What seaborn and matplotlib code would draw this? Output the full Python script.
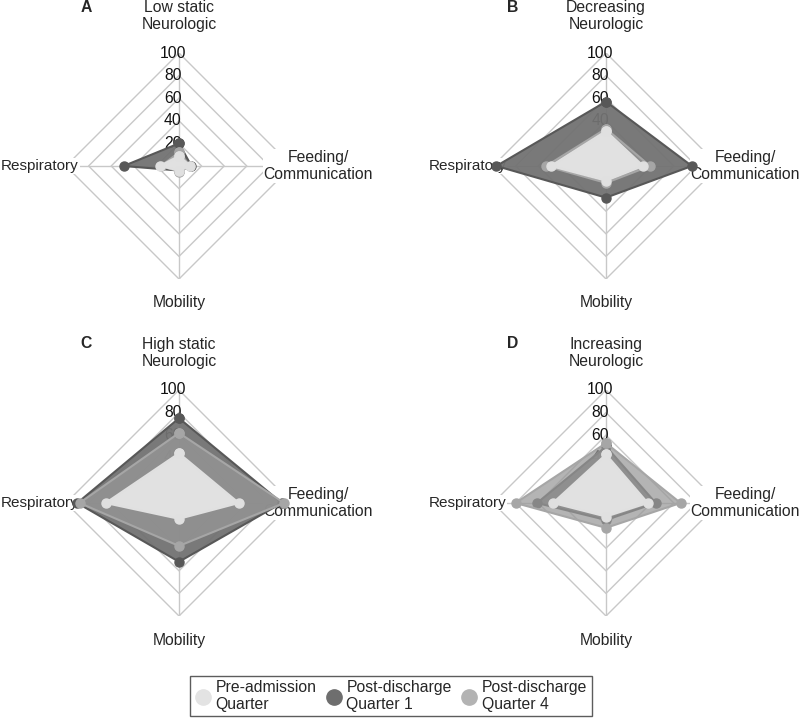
import numpy as np
import matplotlib.pyplot as plt
import matplotlib.transforms as mtransforms
from matplotlib.lines import Line2D
import seaborn as sns

# axis names, clockwise from the top
categories = ['Neurologic', 'Feeding/\nCommunication', 'Mobility', 'Respiratory']
panel_letters = ['A', 'B', 'C', 'D']
panel_titles = ['Low static', 'Decreasing', 'High static', 'Increasing']
ring_values = [0, 20, 40, 60, 80, 100]
series_names = ['Pre-admission\nQuarter', 'Post-discharge\nQuarter 1', 'Post-discharge\nQuarter 4']

# values per panel: [Neurologic, Feeding/Communication, Mobility, Respiratory]
pre_admission = [
    [9, 10, 4, 17],
    [31, 33, 13, 49],
    [44, 53, 14, 65],
    [43, 37, 12, 47],
]
post_q1 = [
    [20, 11, 4, 49],
    [57, 76, 28, 97],
    [75, 91, 52, 90],
    [50, 44, 15, 61],
]
post_q4 = [
    [12, 10, 5, 16],
    [33, 39, 15, 53],
    [62, 93, 38, 88],
    [53, 66, 22, 80],
]

sns.set_style('white')
plt.rcParams['font.family'] = ['Liberation Sans', 'DejaVu Sans']
FS = 11.3

line_cols = sns.color_palette(['#e0e0e0', '#585858', '#a6a6a6'])
fill_cols = sns.color_palette(['#e6e6e6', '#727272', '#989898'])
fill_alpha = [0.95, 0.95, 0.73]
legend_cols = ['#e3e3e3', '#6e6e6e', '#b3b3b3']
grid_col = '#c8c8c8'

W, H = 800, 722
fig = plt.figure(figsize=(W / 100, H / 100), dpi=100)

centers = [(179, 166), (606, 166), (179, 503), (606, 503)]
R = 113
angles = np.linspace(0, 2 * np.pi, len(categories), endpoint=False)
closed = np.concatenate([angles, angles[:1]])


def close(v):
    return list(v) + [v[0]]


for i, (cx, cy) in enumerate(centers):
    ax = fig.add_axes([(cx - R) / W, (H - cy - R) / H, 2 * R / W, 2 * R / H],
                      projection='polar')
    ax.set_theta_offset(np.pi / 2)
    ax.set_theta_direction(-1)
    ax.set_ylim(0, 100)
    ax.axis('off')

    # diamond grid
    for r in ring_values[1:]:
        ax.plot(closed, [r] * len(closed), color=grid_col, lw=1, zorder=1)
    for a in angles:
        ax.plot([a, a], [0, 100], color=grid_col, lw=1, zorder=1)

    # scale labels along the top axis
    off = mtransforms.offset_copy(ax.transData, fig=fig, x=-6, y=0, units='dots')
    for r in ring_values:
        ax.text(0, r, str(r), transform=off, ha='center', va='center',
                fontsize=FS, color='#111111', zorder=2)

    # axis labels
    ax.text(0.5, 0.5 + 150 / (2 * R), panel_titles[i] + '\n' + categories[0],
            transform=ax.transAxes, ha='center', va='center', fontsize=FS,
            linespacing=1.2)
    ax.text(0.5 + 139 / (2 * R), 0.5, categories[1], transform=ax.transAxes,
            ha='center', va='center', fontsize=FS, linespacing=1.2, zorder=3,
            bbox=dict(facecolor='white', edgecolor='none', pad=0.5))
    ax.text(0.5, 0.5 - 137 / (2 * R), categories[2], transform=ax.transAxes,
            ha='center', va='center', fontsize=FS)
    ax.text(0.5 - 100 / (2 * R), 0.5, categories[3], transform=ax.transAxes,
            ha='right', va='center', fontsize=FS - 0.3, zorder=3,
            bbox=dict(facecolor='white', edgecolor='none', pad=0.5))
    ax.text(0.5 - 93 / (2 * R), 0.5 + 159 / (2 * R), panel_letters[i],
            transform=ax.transAxes, ha='center', va='center', fontsize=FS,
            fontweight='bold')

    # data: Q1 first, then Q4, then pre-admission on top
    for k, vals, z in [(1, post_q1[i], 4.0), (2, post_q4[i], 4.2), (0, pre_admission[i], 4.4)]:
        ax.fill(closed, close(vals), color=fill_cols[k], alpha=fill_alpha[k],
                lw=0, zorder=z)
        ax.plot(closed, close(vals), color=line_cols[k], lw=1.5, marker='o',
                ms=6.5, clip_on=False, zorder=z + 0.1)

handles = [Line2D([], [], ls='none', marker='o', ms=11, color=legend_cols[k],
                  markeredgecolor=legend_cols[k]) for k in range(3)]
leg = fig.legend(handles, series_names, loc='center', ncol=3,
                 bbox_to_anchor=(391 / W, 1 - 696 / H), fontsize=FS,
                 frameon=True, fancybox=False, edgecolor='#333333',
                 handlelength=1.0, handletextpad=0.3, columnspacing=0.6,
                 borderpad=0.3, borderaxespad=0)
leg.get_frame().set_linewidth(1)
for t in leg.get_texts():
    t.set_linespacing(1.1)

fig.savefig('out.png', dpi=100)
